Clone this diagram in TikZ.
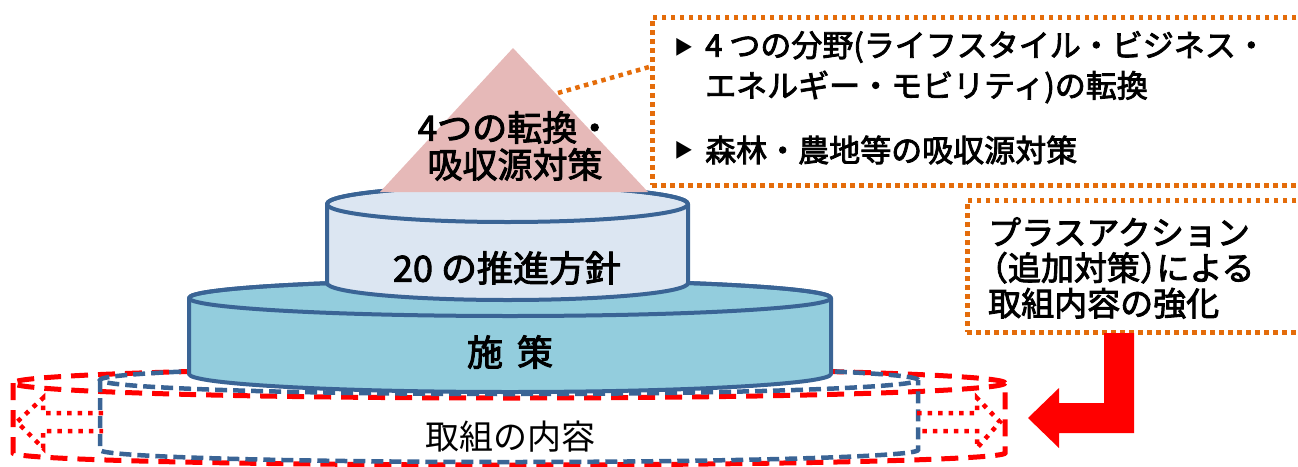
\documentclass[tikz,border=0pt]{standalone}
\usepackage{fontspec}
\setmainfont{Noto Sans CJK JP}
\newfontfamily\jpb{Noto Sans CJK JP}[FakeBold=2.6]
\usetikzlibrary{calc}
\definecolor{cylblue}{HTML}{3A6495}
\definecolor{topfill}{HTML}{DCE6F2}
\definecolor{midfill}{HTML}{93CDDD}
\definecolor{trifill}{HTML}{E6B9B8}
\definecolor{orng}{HTML}{E46C0A}
\definecolor{redc}{HTML}{FF0000}
\tikzset{
  cylline/.style={draw=cylblue, line width=4pt, line join=round},
  reddash/.style={draw=redc, line width=5pt, dash pattern=on 17pt off 10pt},
  bluedash/.style={draw=cylblue, line width=4.5pt, dash pattern=on 12pt off 6pt},
  reddot/.style={draw=redc, line width=4.5pt, dash pattern=on 4.5pt off 6pt},
  orgdot/.style={draw=orng, line width=4.5pt, dash pattern=on 4.5pt off 4.5pt},
  lbl/.style={font=\fontsize{35}{37}\selectfont\jpb, align=center, inner sep=0pt},
  biglbl/.style={font=\fontsize{36}{40}\selectfont\jpb, align=center, inner sep=0pt},
  boxtxt/.style={font=\fontsize{31}{40}\selectfont\jpb, anchor=west, inner sep=0pt},
  bullet/.style={font=\fontsize{19}{19}\selectfont, inner sep=0pt}
}
\begin{document}
\begin{tikzpicture}[x=1pt,y=1pt]
\useasboundingbox (0,0) rectangle (1298,-466);
% dashed outer cylinders
\draw[reddash] (509,-383) ellipse[x radius=496,y radius=15];
\draw[reddash] (13,-383) -- (13,-453) arc[start angle=180,end angle=360,x radius=496,y radius=12] -- (1005,-383);
\draw[bluedash] (509,-380) ellipse[x radius=409,y radius=14];
\draw[bluedash] (100,-380) -- (100,-450) arc[start angle=180,end angle=360,x radius=409,y radius=12] -- (918,-380);
% dotted arrows
\draw[reddot] (103,-413) -- (43,-413) -- (43,-398) -- (17,-422) -- (43,-448) -- (43,-431) -- (103,-431);
\draw[reddot] (917,-413) -- (977,-413) -- (977,-398) -- (1000,-422) -- (977,-448) -- (977,-431) -- (917,-431);
\node[font=\fontsize{34}{40}\selectfont, inner sep=0pt] (torikumi) at (510,-437) {取組の内容};
% middle cylinder
\filldraw[cylline, fill=midfill] (189,-298) -- (189,-374) arc[start angle=180,end angle=360,x radius=321,y radius=18] -- (831,-298) arc[start angle=0,end angle=180,x radius=321,y radius=18] -- cycle;
\draw[cylline] (510,-298) ellipse[x radius=321,y radius=18];
\node[biglbl] (shisaku) at (510,-352) {施\hspace{14pt}策};
% top cylinder
\filldraw[cylline, fill=topfill] (327,-204) -- (327,-283) arc[start angle=180,end angle=360,x radius=180.5,y radius=17] -- (688,-283) -- (688,-204) arc[start angle=0,end angle=180,x radius=180.5,y radius=18] -- cycle;
\draw[cylline] (507.5,-204) ellipse[x radius=180.5,y radius=18];
\node[biglbl] (t20) at (507,-268) {20 の推進方針};
% triangle
\fill[trifill] (380,-192) -- (513,-48) -- (648,-192) -- cycle;
\coordinate (tric) at (558,-93);
\node[lbl] (tritext) at (515,-146) {4つの転換・\\吸収源対策};
% box 1
\node[orgdot, minimum width=652pt, minimum height=168pt, anchor=north west, inner sep=0pt] (box1) at (650,-15) {};
\draw[orgdot] (tric) -- ($(box1.north west)!0.3!(box1.south west)$);
\node[bullet] (bul1) at (684,-47) {▶};
\node[boxtxt] (b1a) at (705,-47) {4 つの分野(ライフスタイル・ビジネス・};
\node[boxtxt] (b1b) at (705,-87) {エネルギー・モビリティ)の転換};
\node[bullet] (bul2) at (684,-150) {▶};
\node[boxtxt] (b1c) at (705,-150) {森林・農地等の吸収源対策};
% box 2
\node[orgdot, minimum width=337pt, minimum height=132pt, anchor=north west, inner sep=0pt] (box2) at (965,-198) {};
\node[boxtxt, align=left, font=\fontsize{33}{35.5}\selectfont\jpb] (b2t) at (988,-268) {プラスアクション\\\hspace*{-0.4em}（追加対策）\hspace{-0.5em}による\\取組内容の強化};
% red arrow
\fill[redc] (1104,-333) -- (1134,-333) -- (1134,-433) -- (1059,-433) -- (1059,-448) -- (1028,-418) -- (1059,-388) -- (1059,-403) -- (1104,-403) -- cycle;
\end{tikzpicture}
\end{document}
